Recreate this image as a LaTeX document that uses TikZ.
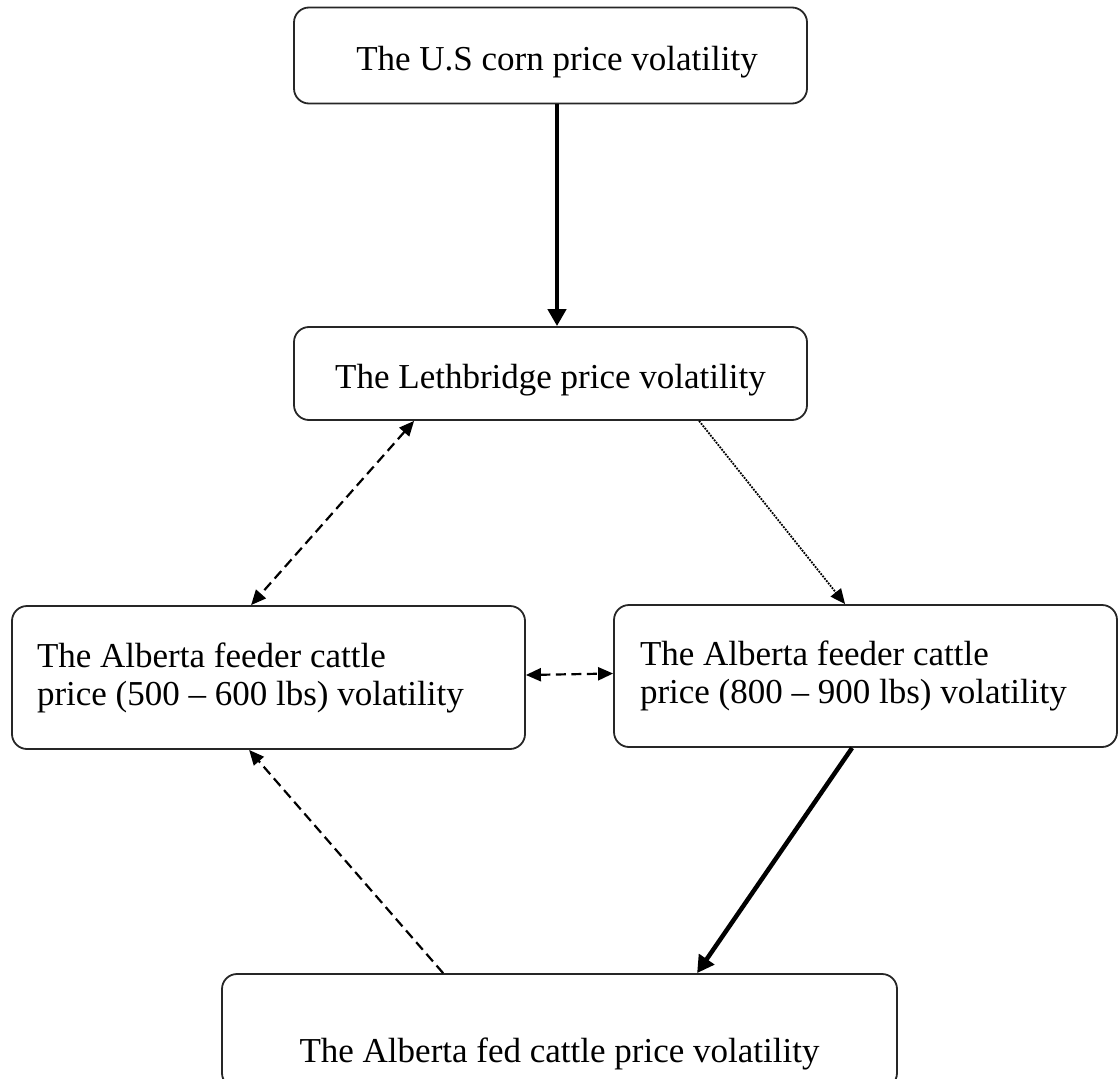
\documentclass[tikz,border=0pt]{standalone}
\usepackage{fontspec}
\setmainfont{Liberation Serif}
\usetikzlibrary{arrows.meta}
\begin{document}
\begin{tikzpicture}[x=1pt,y=-1pt,
  box/.style={draw=black!85, line width=1.8pt, rounded corners=15pt, inner sep=0pt,
    font=\fontsize{35}{38}\selectfont},
  oneline/.style={box, text height=38pt, text depth=8pt},
  twoline/.style={box, align=flush left, inner xsep=25pt},
  stip/.tip={Triangle[length=15pt,width=13pt]},
  btip/.tip={Triangle[length=17pt,width=18pt]},
  thick arrow/.style={line width=4.5pt, -btip},
  dash line/.style={line width=2.2pt, dash pattern=on 10pt off 5.5pt},
  dot line/.style={line width=1.8pt, dash pattern=on 1.8pt off 1.2pt}
]
\useasboundingbox (0,0) rectangle (1118,1078);
\clip (0,0) rectangle (1118,1078);

\node[oneline, minimum width=513pt, minimum height=96pt] (n1) at (550.5,55.5)
  {\hspace{13pt}The U.S corn price volatility};
\node[oneline, minimum width=513pt, minimum height=93pt] (n2) at (550.5,373.5)
  {The Lethbridge price volatility};
\node[twoline, minimum width=513pt, minimum height=143pt, text width=463pt] (n3) at (268.5,677.5)
  {The Alberta feeder cattle\\price (500 – 600 lbs) volatility};
\node[twoline, minimum width=503pt, minimum height=142pt, text width=451pt, inner xsep=26pt] (n4) at (865.5,676)
  {The Alberta feeder cattle\\price (800 – 900 lbs) volatility};
\node[box, minimum width=675pt, minimum height=114pt,
  label={[yshift=-23pt, font=\fontsize{35}{38}\selectfont]center:The Alberta fed cattle price volatility}] (n5) at (559.5,1031) {};

\draw[thick arrow] ([xshift=6.5pt]n1.south) -- ([xshift=6.5pt]n2.north);
\draw[dash line, stip-stip] ([xshift=121pt]n2.south west) -- ([xshift=240pt]n3.north west);
\draw[dot line, -stip] ([xshift=406pt]n2.south west) -- ([xshift=232pt]n4.north west);
\draw[dash line, stip-stip] ([yshift=2.5pt]n3.east) -- ([yshift=2.5pt]n4.west);
\draw[thick arrow] ([xshift=239pt]n4.south west) -- ([xshift=476pt]n5.north west);
\draw[dash line, -stip] ([xshift=222pt]n5.north west) -- ([xshift=238pt]n3.south west);
\end{tikzpicture}
\end{document}
